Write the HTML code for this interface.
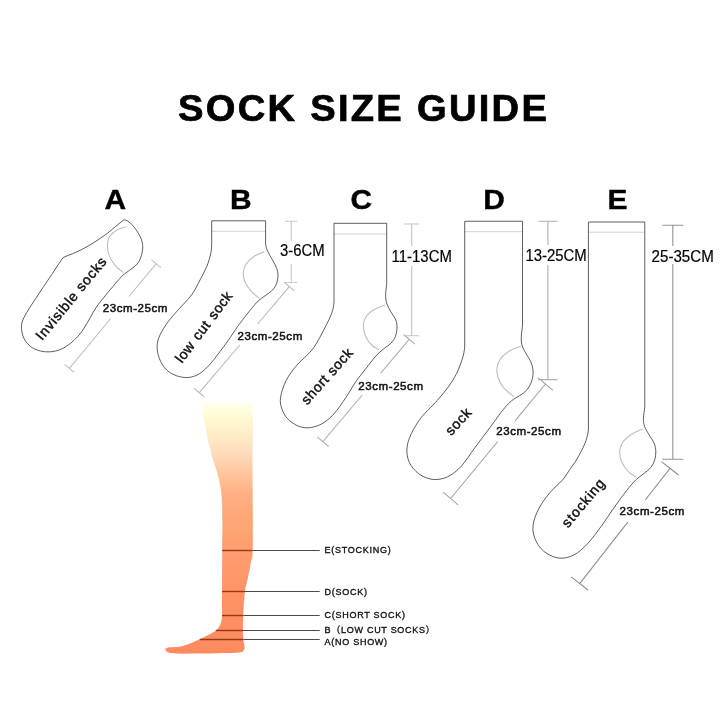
<!DOCTYPE html>
<html><head><meta charset="utf-8"><title>Sock Size Guide</title>
<style>
html,body{margin:0;padding:0;background:#fff;}
body{width:720px;height:720px;overflow:hidden;}
svg{display:block;}
text{font-family:"Liberation Sans","Noto Sans CJK SC",sans-serif;fill:#111;filter:grayscale(1);}
.ttl{font-weight:bold;font-size:36px;fill:#000;stroke:#000;stroke-width:0.7;stroke-linejoin:round;}
.let{font-weight:bold;font-size:28px;text-anchor:middle;fill:#000;stroke:#000;stroke-width:0.4;}
.dim{font-size:15.6px;fill:#000;stroke:#000;stroke-width:0.2;}
.cm{font-size:11.5px;letter-spacing:0.58px;stroke:#111;stroke-width:0.5;}
.rot{font-size:14px;letter-spacing:0.75px;stroke:#111;stroke-width:0.45;}
.lab{font-size:9px;letter-spacing:0.72px;stroke:#111;stroke-width:0.35;}
.o{fill:none;stroke:#1a1a1a;stroke-width:0.7;stroke-linejoin:round;}
.g{fill:none;stroke:#bdbdbd;stroke-width:1.1;}
.g2{fill:none;stroke:#d4d4d4;stroke-width:1;}
.d{fill:none;stroke-width:1.1;}
.l{stroke:#4a4a4a;stroke-width:1;}
.lo{stroke:#96381a;stroke-width:1.4;}
</style></head><body>
<svg width="720" height="720" viewBox="0 0 720 720">
<defs>
<linearGradient id="lg" x1="0" y1="402" x2="0" y2="655" gradientUnits="userSpaceOnUse">
<stop offset="0.0000" stop-color="#ffffff"/>
<stop offset="0.0079" stop-color="#fffff0"/>
<stop offset="0.0198" stop-color="#ffffe2"/>
<stop offset="0.0593" stop-color="#fffad6"/>
<stop offset="0.1028" stop-color="#fff2cc"/>
<stop offset="0.1897" stop-color="#ffdfbe"/>
<stop offset="0.2372" stop-color="#ffd2ae"/>
<stop offset="0.2885" stop-color="#ffc49a"/>
<stop offset="0.3557" stop-color="#ffb184"/>
<stop offset="0.4427" stop-color="#ffa878"/>
<stop offset="0.5534" stop-color="#ffa070"/>
<stop offset="0.7036" stop-color="#ff9668"/>
<stop offset="0.8617" stop-color="#ff8e62"/>
<stop offset="1.0000" stop-color="#ff8a5e"/>
</linearGradient>
</defs>
<rect width="720" height="720" fill="#fff"/>
<text class="ttl" transform="translate(178,120.6) scale(1.06,1)" textLength="348" lengthAdjust="spacing">SOCK SIZE GUIDE</text>
<!-- leg -->
<path fill="url(#lg)" d="M201.8,402 L253,402 C252.93,413.33 252.63,445.83 252.60,470.00 C252.57,494.17 253.07,531.67 252.80,547.00 C252.53,562.33 251.72,557.33 251.00,562.00 C250.28,566.67 249.17,571.67 248.50,575.00 C247.83,578.33 247.58,579.33 247.00,582.00 C246.42,584.67 245.62,585.55 245.00,591.00 C244.38,596.45 243.65,608.20 243.30,614.70 C242.95,621.20 242.90,625.83 242.90,630.00 C242.90,634.17 243.05,637.15 243.30,639.70 C243.55,642.25 244.28,643.68 244.40,645.30 C244.52,646.92 244.90,648.20 244.00,649.40 C243.10,650.60 243.73,651.87 239.00,652.50 C234.27,653.13 222.98,653.02 215.60,653.20 C208.22,653.38 201.18,653.53 194.70,653.60 C188.22,653.67 181.10,653.77 176.70,653.60 C172.30,653.43 170.20,653.27 168.30,652.60 C166.40,651.93 165.30,650.47 165.30,649.60 C165.30,648.73 165.72,647.93 168.30,647.40 C170.88,646.87 177.08,647.10 180.80,646.40 C184.52,645.70 187.35,644.43 190.60,643.20 C193.85,641.97 197.53,640.27 200.30,639.00 C203.07,637.73 204.65,636.98 207.20,635.60 C209.75,634.22 213.52,632.33 215.60,630.70 C217.68,629.07 218.72,627.53 219.70,625.80 C220.68,624.07 221.12,622.15 221.50,620.30 C221.88,618.45 221.92,618.08 222.00,614.70 C222.08,611.32 221.97,611.12 222.00,600.00 C222.03,588.88 222.13,560.50 222.20,548.00 C222.27,535.50 222.43,532.50 222.40,525.00 C222.37,517.50 222.25,508.83 222.00,503.00 C221.75,497.17 221.62,494.75 220.90,490.00 C220.18,485.25 219.13,479.92 217.70,474.50 C216.27,469.08 213.50,461.58 212.30,457.50 C211.10,453.42 211.33,453.47 210.50,450.00 C209.67,446.53 208.10,440.37 207.30,436.70 C206.50,433.03 206.22,430.78 205.70,428.00 C205.18,425.22 204.78,423.50 204.20,420.00 C203.62,416.50 202.60,410.00 202.20,407.00 C201.80,404.00 201.87,402.83 201.80,402.00 Z"/>
<line class="lo" x1="222.2" y1="550.5" x2="252.6" y2="550.5"/><line class="l" x1="252.6" y1="550.5" x2="319.7" y2="550.5"/>
<line class="lo" x1="222" y1="591.5" x2="245" y2="591.5"/><line class="l" x1="245" y1="591.5" x2="319.7" y2="591.5"/>
<line class="lo" x1="222" y1="615.5" x2="243.3" y2="615.5"/><line class="l" x1="243.3" y1="615.5" x2="319.7" y2="615.5"/>
<line class="lo" x1="215.8" y1="630.5" x2="243" y2="630.5"/><line class="l" x1="243" y1="630.5" x2="319.7" y2="630.5"/>
<line class="lo" x1="199.8" y1="639.5" x2="243.3" y2="639.5"/><line class="l" x1="243.3" y1="639.5" x2="319.7" y2="639.5"/>
<text class="lab" x="324.6" y="553.1">E(STOCKING)</text>
<text class="lab" x="324.6" y="594.9">D(SOCK)</text>
<text class="lab" x="324.6" y="618.2">C(SHORT SOCK)</text>
<text class="lab" x="324.6" y="632.8">B（LOW CUT SOCKS）</text>
<text class="lab" x="324.6" y="644.5">A(NO SHOW)</text>

<!-- A -->
<text class="let" transform="translate(115.3,208.9) scale(1.07,1)">A</text>
<path class="g" d="M125.6,226.7 C116,229 108.5,235 107.9,241.25 C106.5,249 109,258 114.2,264.2 C117,268 120,270.5 123.5,272.5"/>
<path class="o" d="M123.5,220 C118,224 113,229 107.9,232.9 C101,238 95,242 89.2,245.4 C83,249 78,251.5 72.5,253.75 C69,255.2 66,256 63.1,257.5 C59,263 55.5,269 51.7,274.6 C46,283 40,292 35,299.6 C31,305.5 27.5,311 24.6,316.25 C22,321 21,325 21.5,328.75 C21.8,333 23,337.5 25.6,341.25 C28.5,345.5 32.5,348.5 37.1,350 C42,351.8 47,352.2 51.7,351.7 C57,351 62,349.3 66.25,346.5 C71.5,343 76.5,338.5 80.8,332.9 C85.5,326.5 89.5,319 93.3,312.1 C96.5,306.5 100,302 103.75,297.5 C107,293.5 110.5,289.5 114.2,285 C117,281.5 120,278 123.5,274.6 C127,271.5 131.5,269.5 135,266.25 C138,263.5 140.3,260 141.25,255.8 C142.3,252.5 143,249 142.7,245.4 C142.3,241 140.5,236.5 138.1,232.9 C136,229.5 133.5,226 130.8,223.5 C128.5,221.3 126,219.5 123.5,220 Z"/>
<path class="d" stroke="#c0c0c0" d="M156.2,263.6 L128.9,296.5 M110.7,318.5 L69.4,368.3 M161.0,267.6 L151.4,259.6 M74.2,372.3 L64.6,364.3"/>
<text class="rot" style="letter-spacing:0.87px;word-spacing:0px" transform="translate(42.1,341.1) rotate(-50.5)">Invisible socks</text>
<text class="cm" x="102.7" y="311.5">23cm-25cm</text>

<!-- B -->
<text class="let" transform="translate(240.8,208.9) scale(1.07,1)">B</text>
<path class="g2" d="M211.75,231.25 H265.75"/>
<path class="g" d="M264.20,251.70 C262.67,252.38 257.92,253.87 255.00,255.80 C252.08,257.73 248.65,260.65 246.70,263.30 C244.75,265.95 243.58,268.63 243.30,271.70 C243.02,274.77 243.60,278.37 245.00,281.70 C246.40,285.03 249.33,288.93 251.70,291.70 C254.07,294.47 257.95,297.20 259.20,298.30"/>
<path class="o" d="M211.7,220.8 H265.6 V243.3 C265.92,246.55 266.35,248.02 267.50,250.80 C268.65,253.58 270.97,257.08 272.50,260.00 C274.03,262.92 275.78,265.80 276.70,268.30 C277.62,270.80 278.00,272.50 278.00,275.00 C278.00,277.50 277.62,280.80 276.70,283.30 C275.78,285.80 274.45,287.92 272.50,290.00 C270.55,292.08 267.37,294.00 265.00,295.80 C262.63,297.60 260.52,298.72 258.30,300.80 C256.08,302.88 254.12,305.38 251.70,308.30 C249.28,311.22 246.17,315.23 243.80,318.30 C241.43,321.37 240.05,323.08 237.50,326.70 C234.95,330.32 231.63,335.57 228.50,340.00 C225.37,344.43 221.90,349.13 218.70,353.30 C215.50,357.47 212.58,361.55 209.30,365.00 C206.02,368.45 202.50,371.92 199.00,374.00 C195.50,376.08 192.02,377.20 188.30,377.50 C184.58,377.80 180.30,377.05 176.70,375.80 C173.10,374.55 169.48,372.63 166.70,370.00 C163.92,367.37 161.58,363.50 160.00,360.00 C158.42,356.50 157.43,352.62 157.20,349.00 C156.97,345.38 157.17,342.30 158.60,338.30 C160.03,334.30 162.82,329.43 165.80,325.00 C168.78,320.57 172.22,316.70 176.50,311.70 C180.78,306.70 187.58,300.28 191.50,295.00 C195.42,289.72 197.47,284.72 200.00,280.00 C202.53,275.28 204.90,271.15 206.70,266.70 C208.50,262.25 209.97,257.20 210.80,253.30 C211.63,249.40 211.55,246.97 211.70,243.30 Z"/>
<path class="d" stroke="#bababa" d="M289.3,286.6 L257.6,324.0 M239.8,345.0 L199.3,392.7 M294.3,290.8 L284.3,282.4 M204.3,396.9 L194.3,388.5"/>
<path class="d" stroke="#cacaca" d="M291.25,221.25 V241 M291.25,264 V282.5 M285.0,221.25 H297.5 M285.0,282.5 H297.5"/>
<text class="rot" style="letter-spacing:0.56px;word-spacing:1.2px" transform="translate(182,363.8) rotate(-53)">low cut sock</text>
<text class="dim" x="280" y="255.6" textLength="44.6" lengthAdjust="spacingAndGlyphs">3-6CM</text>
<text class="cm" x="237.5" y="340">23cm-25cm</text>

<!-- C -->
<text class="let" transform="translate(361.3,208.9) scale(1.07,1)">C</text>
<path class="g2" d="M333.3,234 H386.7"/>
<path class="g" d="M385.00,305.00 C383.33,305.70 378.05,307.40 375.00,309.20 C371.95,311.00 368.65,313.17 366.70,315.80 C364.75,318.43 363.45,321.52 363.30,325.00 C363.15,328.48 364.40,333.37 365.80,336.70 C367.20,340.03 369.47,342.78 371.70,345.00 C373.93,347.22 377.95,349.17 379.20,350.00"/>
<path class="o" d="M334,223.3 H386.7 V283.3 C386.52,287.25 385.60,291.67 385.60,295.00 C385.60,298.33 385.83,300.52 386.70,303.30 C387.57,306.08 389.28,308.92 390.80,311.70 C392.32,314.48 394.77,317.23 395.80,320.00 C396.83,322.77 397.08,325.52 397.00,328.30 C396.92,331.08 396.33,334.20 395.30,336.70 C394.27,339.20 392.80,341.22 390.80,343.30 C388.80,345.38 385.65,347.25 383.30,349.20 C380.95,351.15 378.92,352.65 376.70,355.00 C374.48,357.35 372.45,360.22 370.00,363.30 C367.55,366.38 364.50,370.25 362.00,373.50 C359.50,376.75 357.65,378.85 355.00,382.80 C352.35,386.75 349.62,392.02 346.10,397.20 C342.58,402.38 337.97,409.45 333.90,413.90 C329.83,418.35 325.97,421.58 321.70,423.90 C317.43,426.22 312.38,427.52 308.30,427.80 C304.22,428.08 300.72,427.18 297.20,425.60 C293.68,424.02 289.78,421.18 287.20,418.30 C284.62,415.42 282.80,411.82 281.70,408.30 C280.60,404.78 279.87,401.82 280.60,397.20 C281.33,392.58 283.52,385.78 286.10,380.60 C288.68,375.42 292.58,370.37 296.10,366.10 C299.62,361.83 304.08,358.35 307.20,355.00 C310.32,351.65 312.00,350.25 314.80,346.00 C317.60,341.75 321.18,334.95 324.00,329.50 C326.82,324.05 330.03,317.88 331.70,313.30 C333.37,308.72 333.62,305.88 334.00,302.00 Z"/>
<path class="d" stroke="#b0b0b0" d="M409.2,339.3 L380.5,373.3 M362.3,395.0 L322.9,441.7 M414.9,344.1 L403.5,334.5 M328.6,446.5 L317.2,436.9"/>
<path class="d" stroke="#c2c2c2" d="M411.7,224 V246 M411.7,266 V335.7 M404.2,224 H419.2 M404.2,335.7 H419.2"/>
<text class="rot" style="letter-spacing:0.65px;word-spacing:0px" transform="translate(307.2,405.4) rotate(-48.2)">short sock</text>
<text class="dim" x="391.6" y="261.9" textLength="60.3" lengthAdjust="spacingAndGlyphs">11-13CM</text>
<text class="cm" x="358.3" y="390">23cm-25cm</text>

<!-- D -->
<text class="let" transform="translate(494,208.9) scale(1.07,1)">D</text>
<path class="g2" d="M464.6,231.7 H522.5"/>
<path class="g" d="M520.80,346.30 C519.00,347.05 513.33,348.80 510.00,350.80 C506.67,352.80 502.97,355.38 500.80,358.30 C498.63,361.22 497.42,364.97 497.00,368.30 C496.58,371.63 497.10,374.97 498.30,378.30 C499.50,381.63 501.55,385.23 504.20,388.30 C506.85,391.37 512.53,395.30 514.20,396.70"/>
<path class="o" d="M464.7,221.25 H522.5 V325 C522.30,328.95 521.38,333.37 521.30,336.70 C521.22,340.03 521.25,342.23 522.00,345.00 C522.75,347.77 524.33,350.52 525.80,353.30 C527.27,356.08 529.60,358.92 530.80,361.70 C532.00,364.48 532.72,367.23 533.00,370.00 C533.28,372.77 533.13,375.52 532.50,378.30 C531.87,381.08 530.73,384.20 529.20,386.70 C527.67,389.20 525.67,391.37 523.30,393.30 C520.93,395.23 517.50,396.55 515.00,398.30 C512.50,400.05 510.63,401.43 508.30,403.80 C505.97,406.17 504.05,408.55 501.00,412.50 C497.95,416.45 494.33,421.67 490.00,427.50 C485.67,433.33 479.79,441.04 475.00,447.50 C470.21,453.96 465.83,461.35 461.25,466.25 C456.67,471.15 452.29,474.71 447.50,476.90 C442.71,479.09 437.29,479.92 432.50,479.40 C427.71,478.88 422.60,476.57 418.75,473.75 C414.90,470.93 411.38,466.67 409.40,462.50 C407.42,458.33 406.59,453.54 406.90,448.75 C407.21,443.96 408.86,438.96 411.25,433.75 C413.64,428.54 417.61,422.29 421.25,417.50 C424.89,412.71 429.81,408.58 433.10,405.00 C436.39,401.42 438.35,399.17 441.00,396.00 C443.65,392.83 446.38,389.78 449.00,386.00 C451.62,382.22 454.45,377.92 456.70,373.30 C458.95,368.68 461.17,362.68 462.50,358.30 C463.83,353.92 464.33,350.88 464.70,347.00 Z"/>
<path class="d" stroke="#a2a2a2" d="M545.5,384.0 L515.0,420.8 M497.8,441.5 L450.6,498.5 M553.0,390.3 L538.0,377.7 M458.1,504.8 L443.1,492.2"/>
<path class="d" stroke="#b0b0b0" d="M547.9,221.25 V245 M547.9,265 V379.6 M538.1999999999999,221.25 H557.6 M538.1999999999999,379.6 H557.6"/>
<text class="rot" style="letter-spacing:0.75px;word-spacing:0px" transform="translate(451.2,436.2) rotate(-47.5)">sock</text>
<text class="dim" x="525.4" y="260.9" textLength="61.4" lengthAdjust="spacingAndGlyphs">13-25CM</text>
<text class="cm" x="496.25" y="435">23cm-25cm</text>

<!-- E -->
<text class="let" transform="translate(617.5,208.9) scale(1.07,1)">E</text>
<path class="g2" d="M588.6,232.2 H644.2"/>
<path class="g" d="M642.50,429.20 C640.70,430.03 635.03,431.98 631.70,434.20 C628.37,436.42 624.50,439.58 622.50,442.50 C620.50,445.42 619.83,448.50 619.70,451.70 C619.57,454.90 620.27,458.37 621.70,461.70 C623.13,465.03 625.80,469.07 628.30,471.70 C630.80,474.33 635.30,476.53 636.70,477.50"/>
<path class="o" d="M588.4,222 H644.8 V406.7 C644.57,410.63 643.42,414.97 643.40,418.30 C643.38,421.63 643.73,423.92 644.70,426.70 C645.67,429.48 647.62,432.23 649.20,435.00 C650.78,437.77 653.10,440.52 654.20,443.30 C655.30,446.08 655.72,448.92 655.80,451.70 C655.88,454.48 655.53,457.37 654.70,460.00 C653.87,462.63 652.55,465.28 650.80,467.50 C649.05,469.72 646.33,471.55 644.20,473.30 C642.07,475.05 639.82,476.47 638.00,478.00 C636.18,479.53 635.22,480.37 633.30,482.50 C631.38,484.63 629.55,486.84 626.50,490.80 C623.45,494.76 619.21,500.34 615.00,506.25 C610.79,512.16 605.83,520.00 601.25,526.25 C596.67,532.50 592.08,538.96 587.50,543.75 C582.92,548.54 578.54,552.61 573.75,555.00 C568.96,557.39 563.75,558.73 558.75,558.10 C553.75,557.48 547.71,554.48 543.75,551.25 C539.79,548.02 536.77,543.12 535.00,538.75 C533.23,534.38 532.48,530.00 533.10,525.00 C533.73,520.00 535.93,514.17 538.75,508.75 C541.57,503.33 546.04,497.29 550.00,492.50 C553.96,487.71 559.08,484.00 562.50,480.00 C565.92,476.00 568.08,472.00 570.50,468.50 C572.92,465.00 574.58,463.20 577.00,459.00 C579.42,454.80 583.10,448.13 585.00,443.30 C586.90,438.47 587.83,434.22 588.40,430.00 Z"/>
<path class="d" stroke="#8e8e8e" d="M670.0,468.3 L645.2,500.0 M627.8,522.2 L579.7,583.6 M678.5,475.0 L661.5,461.6 M588.2,590.3 L571.2,576.9"/>
<path class="d" stroke="#929292" d="M672.8,225.3 V246 M672.8,264 V459.2 M662.4,225.3 H683.1999999999999 M662.4,459.2 H683.1999999999999"/>
<text class="rot" style="letter-spacing:1.0px;word-spacing:0px" transform="translate(568,528.4) rotate(-50)">stocking</text>
<text class="dim" x="651.6" y="261.9" textLength="62.2" lengthAdjust="spacingAndGlyphs">25-35CM</text>
<text class="cm" x="619.6" y="515.1">23cm-25cm</text>

</svg>
</body></html>
